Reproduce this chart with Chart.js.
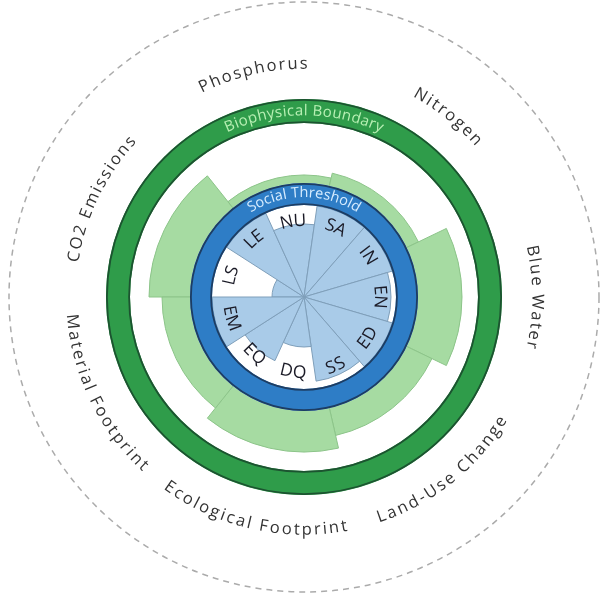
<!DOCTYPE html>
<html><head><meta charset="utf-8">
<script src="https://cdn.jsdelivr.net/npm/chart.js@4.4.1/dist/chart.umd.min.js"></script>
<style>html,body{margin:0;padding:0;background:#fff}canvas{display:block}</style>
</head><body>
<canvas id="c" width="606" height="600"></canvas>
<script>
// ---- data (values on the radial scale) ----
const socialCodes = ['LS','LE','NU','SA','IN','EN','ED','SS','DQ','EQ','EM'];
const socialValues = [32, 92, 73, 92, 92, 87, 92, 85, 50, 70, 92];
const bioLabels = ['CO2 Emissions','Phosphorus','Nitrogen','Blue Water','Land-Use Change','Ecological Footprint','Material Footprint'];
const bioValues = [155, 122, 127, 158, 142, 155, 142];
const socialThresholdBand = [92, 114];
const bioBoundaryBand = [174, 198];
const scaleMax = 297;
const outerCircleValue = 295;

function arcText(ctx, text, cx, cy, r, angTop, font, color, spacing, flip) {
  ctx.save();
  ctx.font = font; ctx.fillStyle = color;
  ctx.textAlign = 'center'; ctx.textBaseline = 'middle';
  const ws = [...text].map(ch => ctx.measureText(ch).width + spacing);
  const total = ws.reduce((a,b)=>a+b,0) - spacing;
  const span = total / r;
  let acc = 0;
  [...text].forEach((ch, i) => {
    const w = ws[i] - spacing;
    let a, rot;
    if (!flip) { a = angTop - span/2 + (acc + w/2)/r; rot = a; }
    else { a = angTop + span/2 - (acc + w/2)/r; rot = a - Math.PI; }
    const x = cx + r*Math.sin(a), y = cy - r*Math.cos(a);
    ctx.save(); ctx.translate(x,y); ctx.rotate(rot); ctx.fillText(ch,0,0); ctx.restore();
    acc += ws[i];
  });
  ctx.restore();
}
function ring(ctx, cx, cy, r0, r1, fill, edge) {
  ctx.beginPath(); ctx.arc(cx,cy,r1,0,2*Math.PI); ctx.arc(cx,cy,r0,0,2*Math.PI,true);
  ctx.fillStyle = fill; ctx.fill();
  ctx.lineWidth = 1.8; ctx.strokeStyle = edge;
  ctx.beginPath(); ctx.arc(cx,cy,r1-0.9,0,2*Math.PI); ctx.stroke();
  ctx.beginPath(); ctx.arc(cx,cy,r0+0.9,0,2*Math.PI); ctx.stroke();
}
const isFlip = a => { const d = ((a*180/Math.PI)%360+360)%360; return d > 90.5 && d < 269.5; };

const deco = {
  id: 'deco',
  beforeDatasetDraw(chart, args) {
    if (args.index !== 0) return;
    const s = chart.scales.r, ctx = chart.ctx;
    ctx.save(); ctx.fillStyle = '#fff';
    ctx.beginPath(); ctx.arc(s.xCenter, s.yCenter, s.getDistanceFromCenterForValue(socialThresholdBand[1]), 0, 2*Math.PI); ctx.fill();
    ctx.restore();
  },
  afterDatasetsDraw(chart) {
    const s = chart.scales.r, ctx = chart.ctx, cx = s.xCenter, cy = s.yCenter;
    const R = v => s.getDistanceFromCenterForValue(v);
    ctx.save();
    ring(ctx, cx, cy, R(socialThresholdBand[0]), R(socialThresholdBand[1]), '#2e7dc6', '#1d3d63');
    ring(ctx, cx, cy, R(bioBoundaryBand[0]), R(bioBoundaryBand[1]), '#2f9c4a', '#1c5330');
    ctx.setLineDash([6,5]); ctx.lineWidth = 1.5; ctx.strokeStyle = '#ababab';
    ctx.beginPath(); ctx.arc(cx, cy, R(outerCircleValue), 0, 2*Math.PI); ctx.stroke();
    ctx.setLineDash([]);
    arcText(ctx, 'Biophysical Boundary', cx, cy, R((bioBoundaryBand[0]+bioBoundaryBand[1])/2), 0, '15px "Open Sans"', '#b8f0b4', 0.6, false);
    arcText(ctx, 'Social Threshold', cx, cy, R((socialThresholdBand[0]+socialThresholdBand[1])/2)+1, 0, '14.5px "Open Sans"', '#d6ecff', 0.4, false);
    const sm = chart.getDatasetMeta(0).data;
    sm.forEach((arc, i) => {
      const a = (arc.startAngle + arc.endAngle)/2 + Math.PI/2;
      arcText(ctx, socialCodes[i], cx, cy, R(76), a, '17.5px "Open Sans"', '#1a1a26', 0.3, isFlip(a));
    });
    const bm = chart.getDatasetMeta(1).data;
    bm.forEach((arc, i) => {
      const a = (arc.startAngle + arc.endAngle)/2 + Math.PI/2;
      arcText(ctx, bioLabels[i], cx, cy, R(233), a, '16.5px "Open Sans"', '#333333', 2.1, isFlip(a));
    });
    ctx.restore();
  }
};

new Chart(document.getElementById('c'), {
  type: 'polarArea',
  data: {
    labels: socialCodes,
    datasets: [
      { label: 'Social', data: socialValues, backgroundColor: '#a9cbe8', borderColor: '#7f9fba', borderWidth: 1 },
      { label: 'Biophysical', data: bioValues, backgroundColor: '#a6dba2', borderColor: '#8cc489', borderWidth: 1 }
    ]
  },
  options: {
    responsive: false, devicePixelRatio: 1, animation: false,
    layout: { padding: { left: 7, right: 5, top: 0, bottom: 6 } },
    plugins: { legend: { display: false }, tooltip: { enabled: false } },
    scales: { r: { min: 0, max: scaleMax, startAngle: 270,
      grid: { display: false }, angleLines: { display: false },
      ticks: { display: false }, pointLabels: { display: false } } }
  },
  plugins: [deco]
});
</script>
</body></html>
